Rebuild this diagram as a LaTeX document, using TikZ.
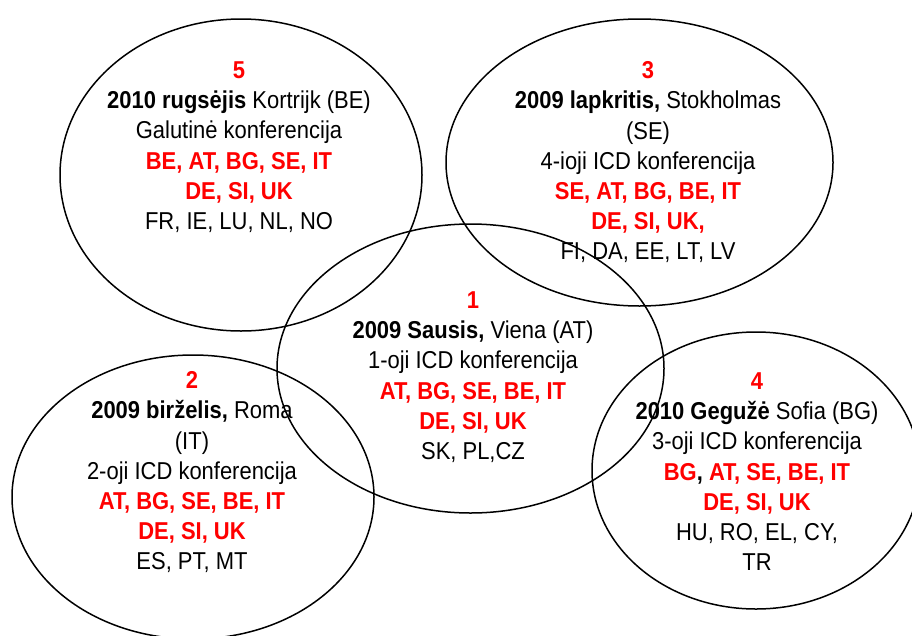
\documentclass[tikz,border=0pt]{standalone}
\usepackage{fontspec}
\setmainfont{Liberation Sans}[FakeStretch=0.9]
\usetikzlibrary{shapes.geometric}
\definecolor{redtxt}{RGB}{255,0,0}
\begin{document}
\begin{tikzpicture}[x=1pt,y=-1pt,
  oval/.style={draw=black,line width=1.5pt,ellipse,inner sep=0pt,outer sep=0pt},
  info/.style={align=center,anchor=north,inner sep=0pt,font=\fontsize{24.4}{30.2}\selectfont},
]
\useasboundingbox (0,0) rectangle (912,635);
\newcommand{\rd}[1]{\textcolor{redtxt}{\textbf{#1}}}
% ellipses
\node[oval,minimum width=362pt,minimum height=312pt] (e5) at (241,175) {};
\node[oval,minimum width=387pt,minimum height=287pt] (e3) at (639.5,162.5) {};
\node[oval,minimum width=387pt,minimum height=289pt] (e1) at (470.5,368.5) {};
\node[oval,minimum width=362pt,minimum height=284pt] (e2) at (193,497) {};
\node[oval,minimum width=328pt,minimum height=277pt] (e4) at (756,470.5) {};
% texts
\node[info] (t5) at (239,61.5) {\rd{5}\\
  \textbf{2010 rugsėjis} Kortrijk (BE)\\
  Galutinė konferencija\\
  \rd{BE, AT, BG, SE, IT}\\
  \rd{DE, SI, UK}\\
  FR, IE, LU, NL, NO};
\node[info] (t3) at (648,61.5) {\rd{3}\\
  \textbf{2009 lapkritis,} Stokholmas\\
  (SE)\\
  4-ioji ICD konferencija\\
  \rd{SE, AT, BG, BE, IT}\\
  \rd{DE, SI, UK,}\\
  FI, DA, EE, LT, LV};
\node[info] (t1) at (473,291.5) {\rd{1}\\
  \textbf{2009 Sausis,} Viena (AT)\\
  1-oji ICD konferencija\\
  \rd{AT, BG, SE, BE, IT}\\
  \rd{DE, SI, UK}\\
  SK, PL,CZ};
\node[info] (t2) at (192,371.5) {\rd{2}\\
  \textbf{2009 birželis,} Roma\\
  (IT)\\
  2-oji ICD konferencija\\
  \rd{AT, BG, SE, BE, IT}\\
  \rd{DE, SI, UK}\\
  ES, PT, MT};
\node[info] (t4) at (757,372.5) {\rd{4}\\
  \textbf{2010 Gegužė} Sofia (BG)\\
  3-oji ICD konferencija\\
  \rd{BG}\textbf{,} \rd{AT, SE, BE, IT}\\
  \rd{DE, SI, UK}\\
  HU, RO, EL, CY,\\
  TR};
\end{tikzpicture}
\end{document}
